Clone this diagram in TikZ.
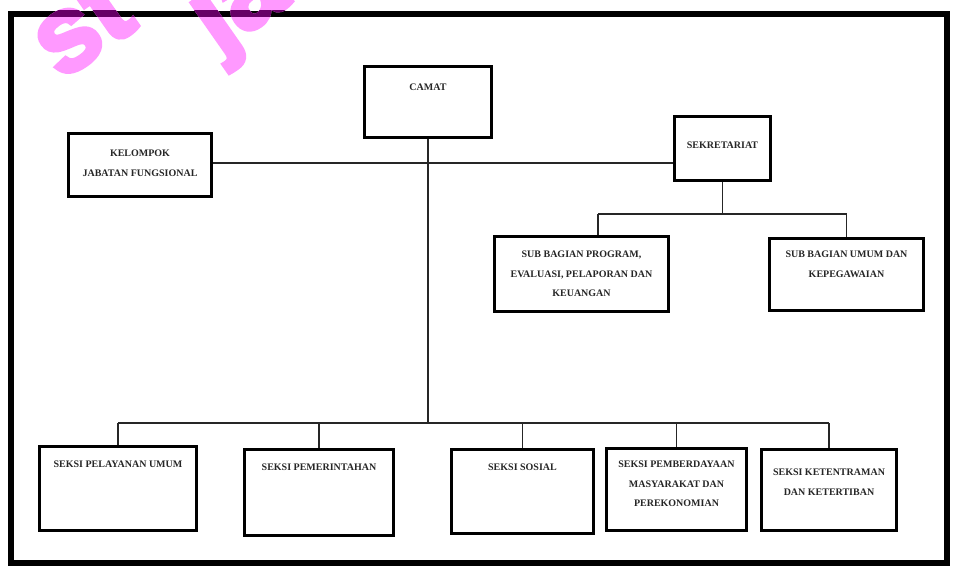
\documentclass[tikz,border=0pt]{standalone}
\usepackage{fontspec}
\setmainfont{Liberation Serif}
\newfontfamily\wmfont[FakeBold=4]{Liberation Sans}
\definecolor{wmpink}{HTML}{FF99FF}
\definecolor{wmdark}{HTML}{660066}
\begin{document}
\begin{tikzpicture}[x=1pt,y=-1pt,
  box/.style={draw=black,line width=3.2pt,rectangle,inner sep=0pt},
  lbl/.style={font=\fontsize{10}{19.5}\selectfont\bfseries,align=center,inner sep=0pt,anchor=north,text=black!85},
  conn/.style={draw=black!85,line width=1.8pt},
  wm/.style={font=\wmfont\bfseries\fontsize{108}{108}\selectfont,rotate=35,inner sep=0pt,anchor=base west}]
\useasboundingbox (0,0) rectangle (956,569);
\fill[white] (0,0) rectangle (956,569);
% frame
\draw[line width=6pt] (11,14) rectangle (947,563);
% boxes
\node[box,minimum width=127pt,minimum height=71pt] (camat) at (428,102) {};
\node[lbl] (tcamat) at (428,84) {CAMAT};
\node[box,minimum width=143pt,minimum height=63pt] (kelompok) at (140,165) {};
\node[lbl] (tkelompok) at (140,150) {KELOMPOK\\JABATAN FUNGSIONAL};
\node[box,minimum width=96pt,minimum height=64pt] (sekretariat) at (722.5,148.5) {};
\node[lbl] (tsekretariat) at (722.5,142) {SEKRETARIAT};
\node[box,minimum width=174pt,minimum height=75pt] (subprog) at (581.5,274) {};
\node[lbl] (tsubprog) at (581.5,251) {SUB BAGIAN PROGRAM,\\EVALUASI, PELAPORAN DAN\\KEUANGAN};
\node[box,minimum width=154pt,minimum height=72pt] (subumum) at (846.5,274.5) {};
\node[lbl] (tsubumum) at (846.5,251) {SUB BAGIAN UMUM DAN\\KEPEGAWAIAN};
\node[box,minimum width=157pt,minimum height=84pt] (pelayanan) at (118,488.5) {};
\node[lbl] (tpelayanan) at (118,461) {SEKSI PELAYANAN UMUM};
\node[box,minimum width=149pt,minimum height=86pt] (pemerintahan) at (319,492.5) {};
\node[lbl] (tpemerintahan) at (319,464) {SEKSI PEMERINTAHAN};
\node[box,minimum width=142pt,minimum height=84pt] (sosial) at (522.5,491.5) {};
\node[lbl] (tsosial) at (522.5,464) {SEKSI SOSIAL};
\node[box,minimum width=140pt,minimum height=82pt] (pemberdayaan) at (676.5,489.5) {};
\node[lbl] (tpemberdayaan) at (676.5,461) {SEKSI PEMBERDAYAAN\\MASYARAKAT DAN\\PEREKONOMIAN};
\node[box,minimum width=135pt,minimum height=81pt] (ketentraman) at (829,490) {};
\node[lbl] (tketentraman) at (829,469) {SEKSI KETENTRAMAN\\DAN KETERTIBAN};
% connectors
\coordinate (bus) at (427,423);
\coordinate (sbus) at (722,214);
\coordinate (spin) at ([xshift=16.5pt]subprog.north);
\draw[conn] ([yshift=2pt]kelompok.east) -- ([yshift=2pt]kelompok.east -| sekretariat.west);
\draw[conn] (camat.south) -- (camat.south |- bus);
\draw[conn] (pelayanan.north |- bus) -- (ketentraman.north |- bus);
\foreach \n in {pelayanan,pemerintahan,sosial,pemberdayaan,ketentraman}
  \draw[conn] (\n.north) -- (\n.north |- bus);
\draw[conn] (sekretariat.south) -- (sekretariat.south |- sbus);
\draw[conn] (spin |- sbus) -- (subumum.north |- sbus);
\draw[conn] (spin) -- (spin |- sbus);
\draw[conn] (subumum.north) -- (subumum.north |- sbus);
% watermark
\begin{scope}
\clip (0,0) rectangle (956,569);
\node[wm,text=wmpink] (wm1) at (61,81) {st};
\node[wm,text=wmpink] (wm2) at (218,54) {ja};
\end{scope}
\begin{scope}
\clip (8,11) rectangle (950,17);
\node[wm,text=wmdark] (wm1d) at (61,81) {st};
\node[wm,text=wmdark] (wm2d) at (218,54) {ja};
\end{scope}
\end{tikzpicture}
\end{document}
